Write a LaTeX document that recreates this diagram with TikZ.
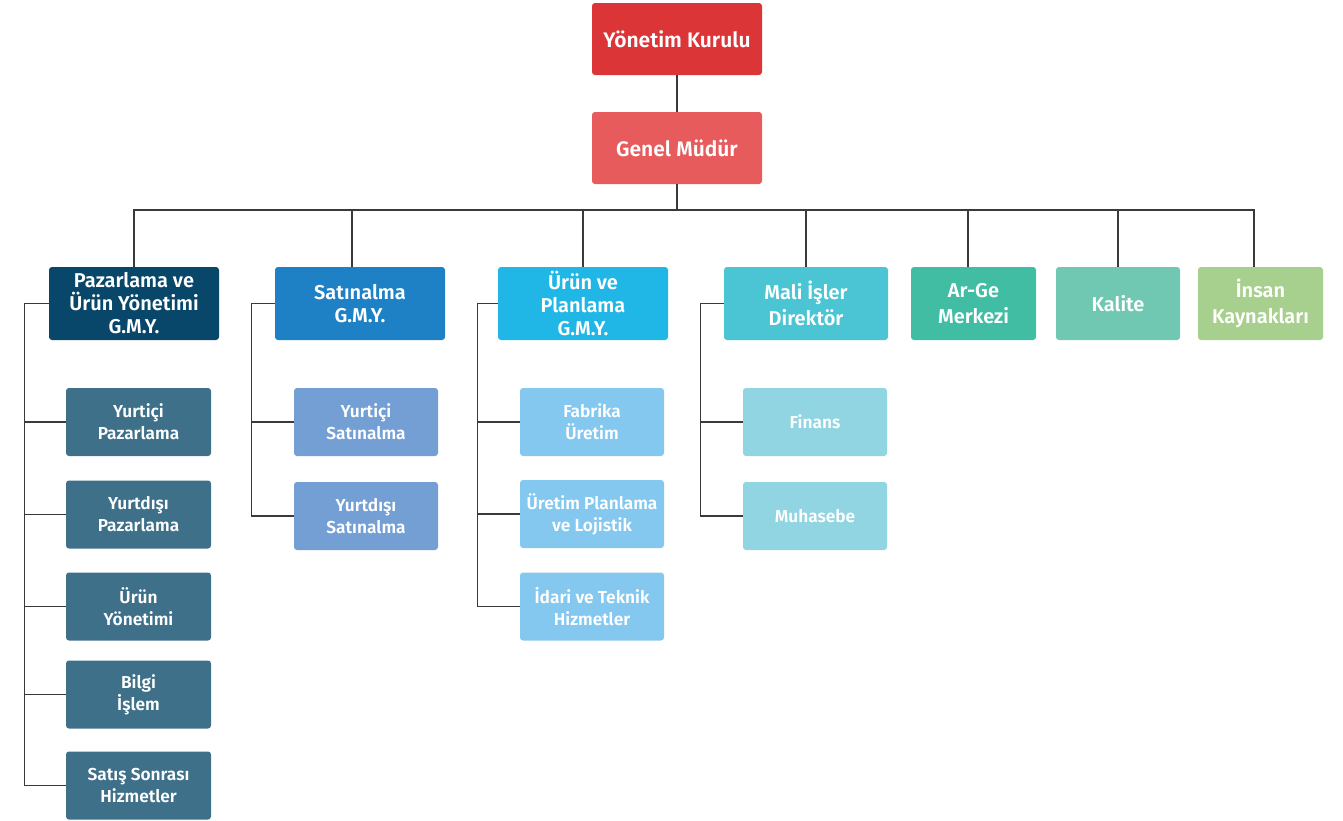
\documentclass[tikz,border=0pt]{standalone}
\usepackage{fontspec}
\setmainfont{Fira Sans}[BoldFont={Fira Sans SemiBold}]
\usetikzlibrary{positioning,calc}
\definecolor{cyk}{HTML}{DC3538}
\definecolor{cgm}{HTML}{E75B5C}
\definecolor{cpaz}{HTML}{08476A}
\definecolor{csat}{HTML}{1E80C5}
\definecolor{curn}{HTML}{20B7E7}
\definecolor{cmal}{HTML}{4BC5D4}
\definecolor{carg}{HTML}{40BDA3}
\definecolor{ckal}{HTML}{70C8B2}
\definecolor{cins}{HTML}{A7CF8D}
\definecolor{cpazk}{HTML}{3E7089}
\definecolor{csatk}{HTML}{739FD4}
\definecolor{curnk}{HTML}{84C8EF}
\definecolor{cmalk}{HTML}{90D5E1}
\definecolor{cline}{HTML}{3A3A3A}
\tikzset{
  box/.style={rounded corners=3pt, text=white, align=center, inner sep=0pt, draw=none},
  topbox/.style={box, minimum width=170pt, minimum height=72pt, font=\bfseries\fontsize{21}{25}\selectfont},
  midbox/.style={box, minimum height=73pt, font=\bfseries\fontsize{20}{23}\selectfont},
  widebox/.style={midbox, font=\bfseries\fontsize{20}{25.5}\selectfont},
  kidbox/.style={box, minimum width=144pt, minimum height=68pt, font=\bfseries\fontsize{17.3}{22}\selectfont},
  conn/.style={draw=cline, line width=1.1pt}
}
\begin{document}
\begin{tikzpicture}[x=1pt,y=-1pt]
\useasboundingbox (0,0) rectangle (1343,820);
% top
\node[topbox, fill=cyk] (yk) at (677,39) {Yönetim Kurulu};
\node[topbox, fill=cgm] (gm) at (677,148) {Genel Müdür};
% level 2
\node[midbox, fill=cpaz, minimum width=170pt] (paz) at (134,303.5) {Pazarlama ve\\Ürün Yönetimi\\G.M.Y.};
\node[midbox, fill=csat, minimum width=170pt] (sat) at (360,303.5) {Satınalma\\G.M.Y.};
\node[midbox, fill=curn, minimum width=170pt] (urn) at (583,303.5) {Ürün ve\\Planlama\\G.M.Y.};
\node[widebox, fill=cmal, minimum width=164pt] (mal) at (806,303.5) {Mali İşler\\Direktör};
\node[widebox, fill=carg, minimum width=125pt] (arg) at (973.5,303.5) {Ar-Ge\\Merkezi};
\node[midbox, fill=ckal, minimum width=124pt] (kal) at (1118,303.5) {Kalite};
\node[widebox, fill=cins, minimum width=125pt] (ins) at (1260.5,303.5) {İnsan\\Kaynakları};
% children of paz
\node[kidbox, fill=cpazk, minimum width=145pt] (pk1) at (138.5,422) {Yurtiçi\\Pazarlama};
\node[kidbox, fill=cpazk, minimum width=145pt] (pk2) at (138.5,514.5) {Yurtdışı\\Pazarlama};
\node[kidbox, fill=cpazk, minimum width=145pt] (pk3) at (138.5,606.5) {Ürün\\Yönetimi};
\node[kidbox, fill=cpazk, minimum width=145pt] (pk4) at (138.5,694.5) {Bilgi\\İşlem};
\node[kidbox, fill=cpazk, minimum width=145pt] (pk5) at (138.5,785.5) {Satış Sonrası\\Hizmetler};
% children of sat
\node[kidbox, fill=csatk] (sk1) at (366,422) {Yurtiçi\\Satınalma};
\node[kidbox, fill=csatk] (sk2) at (366,516) {Yurtdışı\\Satınalma};
% children of urn
\node[kidbox, fill=curnk] (uk1) at (592,422) {Fabrika\\Üretim};
\node[kidbox, fill=curnk] (uk2) at (592,514) {Üretim Planlama\\ve Lojistik};
\node[kidbox, fill=curnk] (uk3) at (592,606.5) {İdari ve Teknik\\Hizmetler};
% children of mal
\node[kidbox, fill=cmalk] (mk1) at (815,422) {Finans};
\node[kidbox, fill=cmalk] (mk2) at (815,516) {Muhasebe};
% connectors
\coordinate (bus) at (677,210);
\draw[conn] (yk.south) -- (gm.north);
\draw[conn] (gm.south) -- (bus);
\draw[conn] (bus) -| (paz.north);
\draw[conn] (bus) -| ([xshift=-8pt]sat.north);
\draw[conn] (bus) -| (urn.north);
\draw[conn] (bus) -| (mal.north);
\draw[conn] (bus) -| ([xshift=-5.5pt]arg.north);
\draw[conn] (bus) -| (kal.north);
\draw[conn] (bus) -| ([xshift=-6.5pt]ins.north);
\foreach \k in {pk1,pk2,pk3,pk4,pk5}{\draw[conn] (paz.west) -- ++(-24,0) |- (\k.west);}
\foreach \k in {sk1,sk2}{\draw[conn] (sat.west) -- ++(-23,0) |- (\k.west);}
\foreach \k in {uk1,uk2,uk3}{\draw[conn] (urn.west) -- ++(-20,0) |- (\k.west);}
\foreach \k in {mk1,mk2}{\draw[conn] (mal.west) -- ++(-23,0) |- (\k.west);}
\end{tikzpicture}
\end{document}
